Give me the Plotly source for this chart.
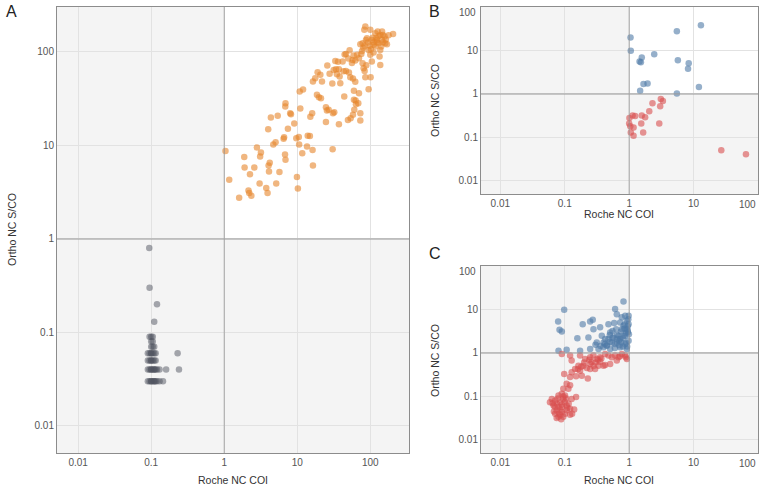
"""Roche vs Ortho NC: three log-log scatter panels."""

import plotly.graph_objects as go

# --- panel A: concordant positives (orange) / negatives (gray)
a_pos_x = [1.04, 1.17, 1.6, 2.15, 2.2, 2.35, 1.88, 1.9, 2.25, 2.58,
           2.8, 3.18, 3.1, 3.05, 3.76, 3.92, 4.1, 4.05, 4.2, 4.0,
           4.35, 5.4, 5.7, 5.15, 6.6, 6.5, 4.7, 5.05, 6.8, 6.9,
           7.45, 8.2, 6.85, 6.9, 8.0, 9.1, 9.7, 10.5, 9.9, 10.2,
           10.6, 11.7, 13.6, 16.2, 16.4, 13.9, 14.9, 11, 10.8, 12,
           15.1, 16, 18.6, 19.8, 21.1, 24.7, 25.5, 26.9, 30.8, 32.1,
           24.7, 30.5, 37.2, 44, 49.4, 53.8, 57.9, 60.4, 59.7, 63.6,
           68.5, 73, 73, 63, 70, 59.7, 16.4, 17.6, 19, 20.7,
           21.8, 25.8, 27.7, 30.2, 31.5, 33.9, 34.9, 37.2, 38, 38.8,
           43.1, 46.4, 51, 53.2, 57.9, 62.3, 33.2, 36.1, 41.8, 44.5,
           46.4, 52.1, 57.3, 59.1, 62.3, 70, 75.3, 78.5, 81, 83.6,
           85.5, 94.9, 101, 88.2, 94.9, 100, 105, 111, 73, 78.5,
           83.6, 87.3, 92.9, 80.2, 85.5, 82.8, 100, 108, 117, 123,
           130, 137, 130, 137, 145, 149, 157, 160, 169, 205,
           178, 117, 134, 137, 102, 111, 145, 121, 126,
           111, 123, 149, 105, 90, 98, 141, 163, 77, 66, 50, 56]
a_pos_y = [8.7, 4.3, 2.75, 3.3, 3.1, 2.9, 7.5, 5.8, 4.9, 5.8,
           9.5, 8.4, 7.6, 3.9, 3.5, 3.1, 5.25, 6.1, 6.5, 14.9,
           19.9, 20.8, 5.2, 3.9, 12.2, 11.8, 10.2, 10.8, 8.0, 7.0,
           15.1, 21.5, 26, 28.3, 22, 17.1, 11.9, 12.3, 4.6, 3.45,
           10.2, 8.25, 9.7, 8.95, 6.1, 12.7, 12.6, 24.8, 37.7, 39.5,
           20.3, 22.1, 34.7, 32.7, 31.9, 25.6, 23.6, 24, 22.1, 22.6,
           17.8, 9.1, 16.8, 33.3, 18.7, 19.5, 21.2, 24, 30.7, 27.6,
           28.3, 22.1, 18.4, 30.2, 36.1, 38.3, 48.2, 52.3, 60.7, 56.8,
           48.2, 71.4, 58.2, 45.8, 64.2, 65.3, 57.7, 65.3, 54.5, 46.2,
           62.1, 62.6, 60.1, 53.6, 51.9, 47.8, 80.1, 78.2, 78.8, 93.6,
           95.2, 104, 82.1, 91.4, 80.8, 85.5, 95.2, 75.6, 66.9, 62.6,
           53.6, 39.9, 53.6, 72, 105, 92.9, 78.8, 98.4, 121, 124,
           116, 134, 126, 111, 187, 172, 172, 142, 158, 134,
           124, 105, 148, 152, 165, 152, 146, 124, 121, 155,
           151, 114, 89.1, 72.6, 107, 119, 134, 140, 165,
           127, 127, 127, 134, 140, 116, 114, 136, 102, 93, 85, 76]

a_neg_x = [0.094, 0.095, 0.12, 0.11,
           0.095, 0.1, 0.105, 0.1, 0.105, 0.1, 0.105, 0.11,
           0.09, 0.095, 0.1, 0.1, 0.105, 0.11, 0.115, 0.23,
           0.09, 0.095, 0.1, 0.1, 0.105, 0.11, 0.115,
           0.09, 0.095, 0.1, 0.1, 0.105, 0.11, 0.11, 0.115, 0.12, 0.13, 0.16, 0.24,
           0.09, 0.095, 0.1, 0.1, 0.105, 0.11, 0.11, 0.115, 0.12, 0.13, 0.145]
a_neg_y = [0.8, 0.3, 0.2, 0.13,
           0.09, 0.09, 0.09, 0.08, 0.08, 0.07, 0.07, 0.07,
           0.06, 0.06, 0.06, 0.06, 0.06, 0.06, 0.06, 0.06,
           0.05, 0.05, 0.05, 0.05, 0.05, 0.05, 0.05,
           0.04, 0.04, 0.04, 0.04, 0.04, 0.04, 0.04, 0.04, 0.04, 0.04, 0.04, 0.04,
           0.03, 0.03, 0.03, 0.03, 0.03, 0.03, 0.03, 0.03, 0.03, 0.03, 0.03]

# --- panel B: Roche reactive
b_pos_x = [1.05, 1.06, 1.57, 1.45, 1.52, 2.45, 5.5, 5.7, 8.4, 8.2, 13, 12.1, 5.5, 1.48, 1.67, 1.93]
b_pos_y = [19.9, 9.8, 6.9, 5.6, 5.4, 8.2, 27.7, 6.0, 5.1, 3.8, 38, 1.45, 1.02, 1.19, 1.7, 1.75]
b_neg_x = [1.01, 1.13, 1.24, 1.0, 1.04, 1.17, 1.06, 1.17, 1.57, 1.77,
           1.54, 1.65, 2.05, 2.3, 2.93, 3.03, 3.1, 3.34, 26.9, 65]
b_neg_y = [0.28, 0.32, 0.31, 0.21, 0.18, 0.17, 0.13, 0.11, 0.32, 0.29,
           0.21, 0.13, 0.4, 0.61, 0.21, 0.52, 0.77, 0.69, 0.051, 0.041]

# --- panel C: Roche non-reactive
c_pos_x = [0.098, 0.079, 0.083, 0.09, 0.08, 0.107, 0.157, 0.19, 0.248, 0.272,
           0.233, 0.173, 0.248, 0.279, 0.354, 0.376, 0.314, 0.4, 0.477, 0.507,
           0.585, 0.628, 0.605, 0.643, 0.817, 0.769, 0.867, 0.92, 0.98, 0.953,
           0.98, 0.724, 0.643, 0.538, 0.45, 0.4, 0.334, 0.769, 0.817, 0.683,
           0.571, 0.867, 0.724, 0.92, 0.507, 0.424, 0.477, 0.92, 0.817, 0.724,
           0.867, 0.98,
           0.45, 0.5, 0.55, 0.6, 0.65, 0.7, 0.75, 0.8, 0.85, 0.9, 0.95, 0.6,
           0.7, 0.8, 0.9, 0.5, 0.55, 0.65, 0.75, 0.85, 0.95, 0.97, 0.99, 0.93,
           0.3, 0.36, 0.42]
c_pos_y = [9.8, 5.3, 3.4, 3.1, 1.13, 1.19, 2.17, 4.6, 5.3, 5.8,
           2.28, 1.13, 1.23, 3.5, 3.9, 2.5, 1.75, 1.75, 4.6, 2.97,
           4.9, 3.5, 10.2, 7.8, 15.2, 6.6, 7.2, 5.5, 4.6, 3.0,
           1.9, 2.1, 1.75, 1.75, 1.47, 1.35, 1.23, 3.5, 2.5, 2.5,
           2.28, 1.6, 1.35, 1.23, 1.23, 2.1, 2.1, 3.5, 4.2, 5.0,
           2.5, 7.2,
           1.5, 1.8, 2.2, 1.6, 2.6, 1.9, 3.1, 2.2, 3.6, 2.9, 4.1, 1.3,
           1.5, 1.4, 1.7, 2.6, 3.2, 2.1, 1.8, 4.5, 3.3, 6.0, 2.7, 1.4,
           1.55, 1.45, 1.6]
c_neg_x = [0.09, 0.121, 0.128, 0.173, 0.207, 0.248, 0.279, 0.314, 0.354, 0.424,
           0.477, 0.538, 0.605, 0.683, 0.769, 0.867, 0.92, 0.643, 0.507, 0.4,
           0.334, 0.248, 0.195, 0.163, 0.173, 0.145, 0.128, 0.15, 0.121, 0.184,
           0.228, 0.248, 0.296, 0.424, 0.354, 0.098, 0.107, 0.121, 0.114, 0.095,
           0.09, 0.08, 0.101, 0.15, 0.128, 0.063, 0.071, 0.059, 0.075, 0.067,
           0.085, 0.09, 0.107, 0.121, 0.075, 0.09, 0.071, 0.101, 0.121, 0.08,
           0.095, 0.085, 0.08, 0.095, 0.107, 0.72, 0.89,
           0.065, 0.07, 0.078, 0.085, 0.09, 0.1, 0.11, 0.068, 0.082, 0.095,
           0.105, 0.088, 0.075, 0.13, 0.115, 0.14,
           0.2, 0.22, 0.26, 0.3, 0.33, 0.37, 0.28, 0.24, 0.18, 0.16]
c_neg_y = [0.95, 0.87, 0.67, 0.87, 0.73, 0.8, 0.87, 0.73, 0.8, 0.95,
           0.87, 0.8, 0.87, 0.8, 0.95, 0.87, 0.73, 0.67, 0.56, 0.51,
           0.51, 0.56, 0.51, 0.51, 0.39, 0.43, 0.36, 0.29, 0.28, 0.3,
           0.26, 0.43, 0.43, 0.53, 0.63, 0.33, 0.195, 0.18, 0.15, 0.15,
           0.115, 0.105, 0.105, 0.097, 0.088, 0.088, 0.081, 0.074, 0.068, 0.062,
           0.074, 0.057, 0.062, 0.052, 0.048, 0.044, 0.04, 0.04, 0.038, 0.034,
           0.034, 0.037, 0.057, 0.088, 0.048, 0.84, 0.8,
           0.07, 0.058, 0.09, 0.05, 0.065, 0.075, 0.055, 0.045, 0.04, 0.1,
           0.09, 0.03, 0.032, 0.04, 0.068, 0.05,
           0.6, 0.45, 0.62, 0.6, 0.7, 0.75, 0.5, 0.7, 0.48, 0.42]

tick_vals = [0.01, 0.1, 1, 10, 100]
tick_text = ["0.01", "0.1", "1", "10", "100"]

ORANGE = "rgba(230,134,44,0.6)"
GRAY = "rgba(80,84,96,0.5)"
BLUE = "rgba(78,121,167,0.6)"
RED = "rgba(217,79,79,0.6)"
BG = "#F4F4F4"
GRID = "#E2E2E2"
FONT = "Liberation Sans, Arial, sans-serif"
TICK_FONT = dict(family=FONT, size=10, color="#555555")

panels = [
    # axis suffix, x domain, y domain, log ranges
    ("", [57 / 760, 409 / 760], [1 - 453 / 487, 1 - 7 / 487], [-2.29, 2.53], [-2.29, 2.48]),
    ("2", [481 / 760, 758 / 760], [1 - 194 / 487, 1 - 7 / 487], [-2.3, 2.0], [-2.3, 2.0]),
    ("3", [481 / 760, 758 / 760], [1 - 453 / 487, 1 - 266 / 487], [-2.3, 2.0], [-2.3, 2.0]),
]

fig = go.Figure()

series = [
    ("", a_neg_x, a_neg_y, GRAY),
    ("", a_pos_x, a_pos_y, ORANGE),
    ("2", b_pos_x, b_pos_y, BLUE),
    ("2", b_neg_x, b_neg_y, RED),
    ("3", c_pos_x, c_pos_y, BLUE),
    ("3", c_neg_x, c_neg_y, RED),
]
for sfx, xs, ys, col in series:
    fig.add_trace(go.Scatter(
        x=xs, y=ys, mode="markers", xaxis="x" + sfx, yaxis="y" + sfx,
        marker=dict(size=6.5, color=col, line=dict(width=0)),
        showlegend=False, hoverinfo="x+y",
    ))

axis_style = dict(
    type="log", showgrid=True,
    gridcolor=GRID, gridwidth=1, zeroline=False, showline=True, mirror=True,
    linecolor="#8C8C8C", linewidth=1, ticks="", automargin=False,
    tickfont=TICK_FONT,
)

layout = dict(
    width=760, height=487, margin=dict(l=0, r=0, t=0, b=0, autoexpand=False),
    paper_bgcolor="white", plot_bgcolor=BG, showlegend=False,
    font=dict(family=FONT, color="#333333"),
)
shapes = []
for sfx, xd, yd, xr, yr in panels:
    # the "100" label sits on the frame edge in B/C; it is placed by annotation below
    edge = sfx != ""
    text = tick_text[:-1] if edge else tick_text
    vals = tick_vals[:-1] if edge else tick_vals
    layout["xaxis" + sfx] = dict(axis_style, domain=xd, range=xr, anchor="y" + sfx,
                                 tickvals=vals, ticktext=text)
    layout["yaxis" + sfx] = dict(axis_style, domain=yd, range=yr, anchor="x" + sfx,
                                 tickvals=vals, ticktext=text)
    xref, yref = "x" + sfx, "y" + sfx
    # white concordant-positive quadrant
    shapes.append(dict(type="rect", xref=xref, yref=yref, x0=1, x1=10 ** xr[1],
                       y0=1, y1=10 ** yr[1], fillcolor="white", line=dict(width=0),
                       layer="below"))
    # cut-off lines at 1
    shapes.append(dict(type="line", xref=xref, yref=yref, x0=1, x1=1,
                       y0=10 ** yr[0], y1=10 ** yr[1],
                       line=dict(color="rgba(150,150,150,0.8)", width=1), layer="above"))
    shapes.append(dict(type="line", xref=xref, yref=yref, x0=10 ** xr[0], x1=10 ** xr[1],
                       y0=1, y1=1,
                       line=dict(color="rgba(160,160,160,0.75)", width=1.5), layer="above"))
layout["shapes"] = shapes

title_font = dict(family=FONT, size=10.5, color="#333333")
letter_font = dict(family=FONT, size=16, color="#222222")


def px_x(v):
    return v / 760


def px_y(v):
    return 1 - v / 487


annotations = [
    dict(text="A", x=px_x(4), y=px_y(1), xanchor="left", yanchor="top", font=letter_font),
    dict(text="B", x=px_x(427), y=px_y(1), xanchor="left", yanchor="top", font=letter_font),
    dict(text="C", x=px_x(427), y=px_y(243), xanchor="left", yanchor="top", font=letter_font),
    dict(text="Roche NC COI", x=px_x(233), y=px_y(480), font=title_font),
    dict(text="Roche NC COI", x=px_x(619), y=px_y(214), font=title_font),
    dict(text="Roche NC COI", x=px_x(619), y=px_y(480), font=title_font),
    dict(text="Ortho NC S/CO", x=px_x(12), y=px_y(230), textangle=-90, font=title_font),
    dict(text="Ortho NC S/CO", x=px_x(435), y=px_y(100), textangle=-90, font=title_font),
    dict(text="Ortho NC S/CO", x=px_x(435), y=px_y(360), textangle=-90, font=title_font),
    # edge tick labels of B and C, nudged inside the page
    dict(text=tick_text[-1], x=px_x(747), y=px_y(204), font=TICK_FONT),
    dict(text=tick_text[-1], x=px_x(747), y=px_y(463), font=TICK_FONT),
    dict(text=tick_text[-1], x=px_x(478), y=px_y(12), xanchor="right", font=TICK_FONT),
    dict(text=tick_text[-1], x=px_x(478), y=px_y(271), xanchor="right", font=TICK_FONT),
]
for a in annotations:
    a.update(xref="paper", yref="paper", showarrow=False)
    a.setdefault("xanchor", "center")
    a.setdefault("yanchor", "middle")
layout["annotations"] = annotations

fig.update_layout(**layout)
fig.write_html(
    "out.html",
    config={"displayModeBar": False},
    post_script="document.body.style.margin='0';document.body.style.overflow='hidden';",
)
